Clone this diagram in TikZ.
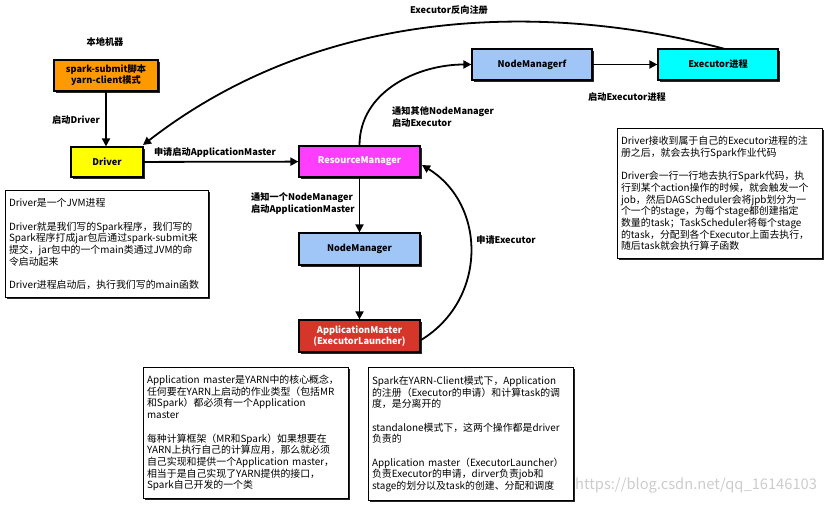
\documentclass[tikz,border=0pt]{standalone}
\usepackage{fontspec}
\setmainfont{Noto Sans CJK SC}
\usetikzlibrary{arrows.meta,shadows}
\definecolor{cOrange}{HTML}{FF9900}
\definecolor{cYellow}{HTML}{FFFF00}
\definecolor{cMagenta}{HTML}{FF3DFF}
\definecolor{cBlue}{HTML}{A0C6F8}
\definecolor{cCyan}{HTML}{00FFFF}
\definecolor{cRed}{HTML}{D6352A}
\begin{document}
\begin{tikzpicture}[x=1pt,y=-1pt,
  box/.style={draw=black,line width=1.2pt,
    drop shadow={shadow xshift=1.6pt,shadow yshift=-1.6pt,fill=black,opacity=0.85},
    font=\fontsize{9.2}{11}\selectfont\bfseries,align=center,inner sep=0pt},
  conn/.style={line width=1.8pt,-{Triangle[length=8pt,width=8pt]}},
  lbl/.style={font=\fontsize{9.2}{11.8}\selectfont\bfseries,inner sep=0pt,align=left},
  note/.style={draw=black,line width=1.1pt,fill=white,
    drop shadow={shadow xshift=1.4pt,shadow yshift=-1.4pt,fill=black,opacity=0.85},
    font=\fontsize{9.9}{11.7}\selectfont,align=left,inner sep=3.5pt,anchor=north west}
]
\useasboundingbox (0,0) rectangle (826,506);

% boxes
\node[box,fill=cOrange,minimum width=104pt,minimum height=31pt] (spark) at (106,75.5) {spark-submit脚本\\yarn-client模式};
\node[box,fill=cYellow,minimum width=72pt,minimum height=30pt] (driver) at (107,162) {Driver};
\node[box,fill=cMagenta,text=white,minimum width=121pt,minimum height=31pt] (rm) at (359.5,161.5) {ResourceManager};
\node[box,fill=cBlue,minimum width=120pt,minimum height=31pt] (nmf) at (532,64.5) {NodeManagerf};
\node[box,fill=cCyan,minimum width=120pt,minimum height=31pt] (exe) at (718,64.5) {Executor进程};
\node[box,fill=cBlue,minimum width=121pt,minimum height=32pt] (nm) at (359.5,249) {NodeManager};
\node[box,fill=cRed,text=white,minimum width=121pt,minimum height=32pt] (am) at (359.5,336) {ApplicationMaster\\(ExecutorLauncher)};

% labels
\node[lbl] (lLocal) at (105,42) {本地机器};
\node[lbl] (lStartDriver) at (76,120) {启动Driver};
\node[lbl] (lApply) at (215,153) {申请启动ApplicationMaster};
\node[lbl] (lReg) at (449,10) {Executor反向注册};
\node[lbl,anchor=west] (lNotifyOthers) at (392,117) {通知其他NodeManager\\启动Executor};
\node[lbl,anchor=west] (lNotifyOne) at (251,203.5) {通知一个NodeManager\\启动ApplicationMaster};
\node[lbl] (lStartExe) at (627,97) {启动Executor进程};
\node[lbl] (lApplyExe) at (506,240) {申请Executor};

% connectors
\draw[conn] (spark.south) -- (spark.south |- driver.north);
\draw[conn] (driver) -- (rm);
\draw[conn] (nmf) -- (exe);
\draw[conn] (rm) -- (nm);
\draw[conn] (nm) -- (am);
\draw[conn] (rm.north) to[out=90,in=180] (nmf.west);
\coordinate (exeTop) at (725,49);
\coordinate (drvTR) at (143,145);
\draw[conn] (exeTop) .. controls (560,5) and (330,0) .. (drvTR);
\coordinate (amR) at (421,340);
\coordinate (rmR) at (422,165);
\draw[conn] (amR) .. controls (487,300) and (487,205) .. (rmR);

% notes
\node[note,text width=196pt,minimum width=203pt,minimum height=107pt] (n1) at (5,190) {%
Driver是一个JVM进程\\[11.7pt]
Driver就是我们写的Spark程序，我们写的\\
Spark程序打成jar包后通过spark-submit来\\
提交，jar包中的一个main类通过JVM的命\\
令启动起来\\[11.7pt]
Driver进程启动后，执行我们写的main函数};

\node[note,text width=198pt,minimum width=205pt,minimum height=130pt] (n2) at (617,128) {%
Driver接收到属于自己的Executor进程的注\\
册之后，就会去执行Spark作业代码\\[11.7pt]
Driver会一行一行地去执行Spark代码，执\\
行到某个action操作的时候，就会触发一个\\
job，然后DAGScheduler会将jpb划分为一\\
个一个的stage，为每个stage都创建指定\\
数量的task；TaskScheduler将每个stage\\
的task，分配到各个Executor上面去执行，\\
随后task就会执行算子函数};

\node[note,text width=198pt,minimum width=205pt,minimum height=131pt] (n3) at (143,367) {%
Application master是YARN中的核心概念，\\
任何要在YARN上启动的作业类型（包括MR\\
和Spark）都必须有一个Application\\
master\\[11.7pt]
每种计算框架（MR和Spark）如果想要在\\
YARN上执行自己的计算应用，那么就必须\\
自己实现和提供一个Application master，\\
相当于是自己实现了YARN提供的接口，\\
Spark自己开发的一个类};

\node[note,text width=198pt,minimum width=205pt,minimum height=133pt] (n4) at (368,367) {%
Spark在YARN-Client模式下，Application\\
的注册（Executor的申请）和计算task的调\\
度，是分离开的\\[11.7pt]
standalone模式下，这两个操作都是driver\\
负责的\\[11.7pt]
Application master（ExecutorLauncher）\\
负责Executor的申请，dirver负责job和\\
stage的划分以及task的创建、分配和调度};

\node[font=\fontsize{14.7}{16}\selectfont,text=gray!40,anchor=west,inner sep=0pt] (wm) at (575,485) {https://blog.csdn.net/qq\_16146103};
\end{tikzpicture}
\end{document}
